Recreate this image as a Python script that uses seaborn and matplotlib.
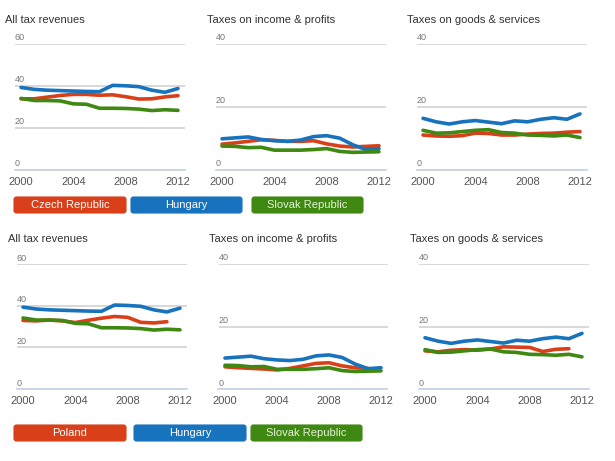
import matplotlib
matplotlib.use('Agg')
import matplotlib.pyplot as plt
from matplotlib.patches import FancyBboxPatch
import seaborn as sns

# Tax revenue as % of GDP, 2000-2012
years = list(range(2000, 2013))

hungary_total = [39.3, 38.4, 38.0, 37.8, 37.6, 37.4, 37.3, 40.3, 40.1, 39.7, 38.0, 37.0, 38.8]
czech_total = [33.9, 33.9, 34.7, 35.5, 36.0, 36.0, 35.6, 35.8, 34.9, 33.8, 33.9, 34.8, 35.4]
slovak_total = [34.1, 33.1, 33.1, 32.9, 31.5, 31.3, 29.4, 29.4, 29.3, 29.0, 28.3, 28.7, 28.4]
poland_total = [32.9, 32.7, 33.1, 32.7, 31.9, 33.0, 34.0, 34.8, 34.4, 32.0, 31.7, 32.3]

hungary_income = [9.9, 10.2, 10.5, 9.7, 9.3, 9.1, 9.5, 10.6, 10.9, 10.1, 8.0, 6.5, 6.8]
czech_income = [8.2, 8.6, 9.1, 9.6, 9.4, 9.1, 9.1, 9.3, 8.3, 7.6, 7.3, 7.5, 7.7]
slovak_income = [7.6, 7.5, 7.1, 7.2, 6.3, 6.3, 6.3, 6.5, 6.8, 5.9, 5.6, 5.7, 5.8]
poland_income = [7.1, 6.8, 6.6, 6.4, 6.1, 6.6, 7.4, 8.2, 8.4, 7.4, 6.8, 6.6]

hungary_goods = [16.4, 15.3, 14.6, 15.3, 15.7, 15.2, 14.7, 15.6, 15.3, 16.1, 16.6, 16.1, 17.8]
czech_goods = [11.1, 10.8, 10.7, 10.9, 11.7, 11.6, 11.1, 11.1, 11.4, 11.6, 11.7, 12.0, 12.2]
slovak_goods = [12.6, 11.7, 11.8, 12.2, 12.6, 12.8, 11.9, 11.7, 11.1, 11.0, 10.8, 11.1, 10.3]
poland_goods = [12.2, 11.9, 12.4, 12.6, 12.4, 12.8, 13.5, 13.4, 13.3, 12.0, 12.7, 12.9]

panel_titles = ['All tax revenues', 'Taxes on income & profits', 'Taxes on goods & services']
panel_ymax = [60, 40, 40]
year_ticks = [2000, 2004, 2008, 2012]

colors = {
    'Czech Republic': '#d9401a',
    'Poland': '#d9401a',
    'Hungary': '#1773bd',
    'Slovak Republic': '#3f8812',
}

sns.set_style('white')
plt.rcParams['font.family'] = ['Liberation Sans', 'DejaVu Sans']

W, H = 615, 461
fig = plt.figure(figsize=(W / 100, H / 100), dpi=100, facecolor='white')


def px_axes(left, top, right, bottom):
    return fig.add_axes([left / W, 1 - bottom / H, (right - left) / W, (bottom - top) / H])


def draw_panel(ax, series, ymax):
    for name, vals in series:
        sns.lineplot(x=years[:len(vals)], y=vals, color=colors[name],
                     linewidth=2.6, ax=ax, legend=False)
    ax.set_xlim(1999.5, 2012.5)
    ax.set_ylim(0, ymax)
    yt = list(range(0, ymax + 1, 20))
    ax.set_yticks(yt)
    ax.set_yticklabels([])
    ax.set_xticks(year_ticks)
    ax.set_xticklabels([str(y) for y in year_ticks], fontsize=8, color='#555555')
    ax.tick_params(axis='y', length=0)
    ax.tick_params(axis='x', length=3, color='#c5d4e3', pad=2)
    ax.grid(axis='y', color='#d6d6d6', linewidth=1.3)
    ax.grid(axis='x', visible=False)
    ax.set_xlabel('')
    ax.set_ylabel('')
    ax.set_facecolor('white')
    for s in ['top', 'left', 'right']:
        ax.spines[s].set_visible(False)
    ax.spines['bottom'].set_color('#c5d4e3')
    ax.spines['bottom'].set_linewidth(1.2)
    # value labels sit just above their gridline, at the left edge
    for y in yt:
        ax.text(0.0, y + ymax * 0.012, str(y), transform=ax.get_yaxis_transform(),
                ha='left', va='bottom', fontsize=6.5, color='#777777')


def button(left, top, right, bottom, label, color, txtcolor='white'):
    box = FancyBboxPatch((left / 100, (H - bottom) / 100), (right - left) / 100, (bottom - top) / 100,
                         boxstyle='round,pad=0,rounding_size=0.025',
                         transform=fig.dpi_scale_trans, facecolor=color,
                         edgecolor=color, linewidth=0.8)
    fig.patches.append(box)
    fig.text((left + right) / 2 / W, 1 - (top + bottom) / 2 / H, label,
             ha='center', va='center', fontsize=8, color=txtcolor)


# top row: Czech Republic, Hungary, Slovak Republic
top_series = [
    [('Czech Republic', czech_total), ('Hungary', hungary_total), ('Slovak Republic', slovak_total)],
    [('Czech Republic', czech_income), ('Hungary', hungary_income), ('Slovak Republic', slovak_income)],
    [('Czech Republic', czech_goods), ('Hungary', hungary_goods), ('Slovak Republic', slovak_goods)],
]
# bottom row: Poland, Hungary, Slovak Republic
bottom_series = [
    [('Poland', poland_total), ('Hungary', hungary_total), ('Slovak Republic', slovak_total)],
    [('Poland', poland_income), ('Hungary', hungary_income), ('Slovak Republic', slovak_income)],
    [('Poland', poland_goods), ('Hungary', hungary_goods), ('Slovak Republic', slovak_goods)],
]

top_x = [(14.5, 184.5), (215.5, 385.5), (416.5, 586.5)]
bot_x = [(16.5, 186.5), (218.5, 387.5), (418.5, 588.5)]
top_title_x = [5, 207, 407]
bot_title_x = [8, 209, 410]

for i in range(3):
    ax = px_axes(top_x[i][0], 44, top_x[i][1], 170)
    draw_panel(ax, top_series[i], panel_ymax[i])
    fig.text(top_title_x[i] / W, 1 - 20 / H, panel_titles[i], ha='left', va='center',
             fontsize=8, color='#333333')

    ax = px_axes(bot_x[i][0], 264, bot_x[i][1], 389)
    draw_panel(ax, bottom_series[i], panel_ymax[i])
    fig.text(bot_title_x[i] / W, 1 - 239 / H, panel_titles[i], ha='left', va='center',
             fontsize=8, color='#333333')

button(14, 197, 126, 213, 'Czech Republic', colors['Czech Republic'])
button(131, 197, 242, 213, 'Hungary', colors['Hungary'])
button(252, 197, 363, 213, 'Slovak Republic', colors['Slovak Republic'], '#e6f2d6')

button(14, 425, 126, 441, 'Poland', colors['Poland'])
button(134, 425, 246, 441, 'Hungary', colors['Hungary'])
button(251, 425, 362, 441, 'Slovak Republic', colors['Slovak Republic'], '#e6f2d6')

fig.savefig('out.png', dpi=100, facecolor='white')
